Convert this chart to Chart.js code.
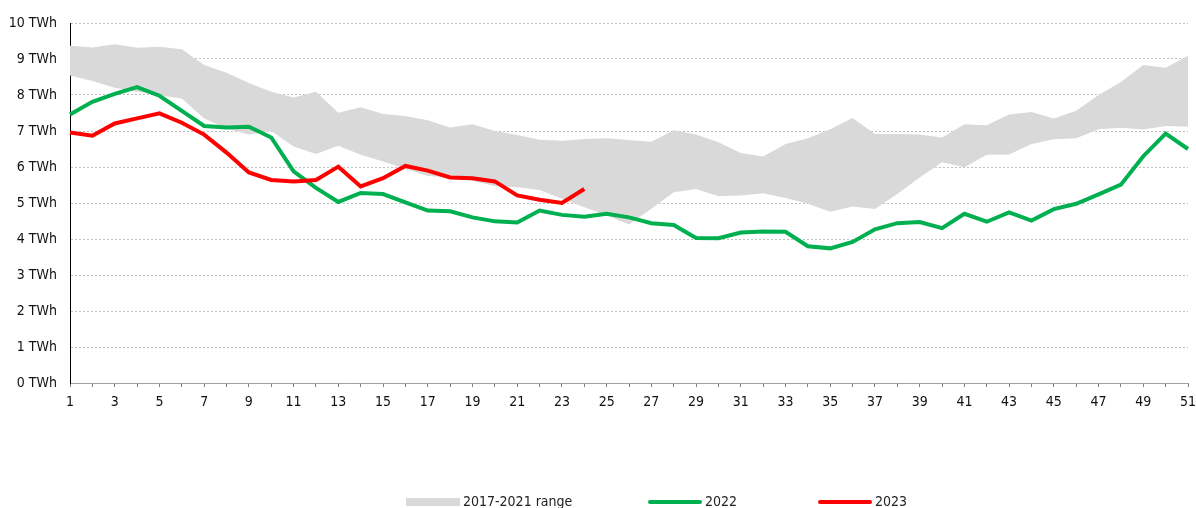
<!DOCTYPE html>
<html>
<head>
<meta charset="utf-8">
<script src="https://cdn.jsdelivr.net/npm/chart.js@4/dist/chart.umd.min.js"></script>
<style>
  body { margin: 0; background: #fff; font-family: "DejaVu Sans Condensed", "DejaVu Sans", sans-serif; }
  #wrap { position: relative; width: 1196px; height: 508px; }
  #legend { position: absolute; top: 493px; left: 0; width: 1196px; height: 16px; font-size: 14px; color: #222; }
  .item { position: absolute; top: 0; line-height: 16px; white-space: nowrap; }
  .swatch { display: inline-block; width: 54px; vertical-align: middle; margin-right: 3px; }
</style>
</head>
<body>
<div id="wrap">
  <canvas id="myChart" width="1196" height="508"></canvas>
  <div id="legend"></div>
</div>
<script>
// weeks 1..51
const weeks = []
for (let w = 1; w <= 51; w++) weeks.push(String(w))

// 2017-2021 range (min / max), TWh
const rangeMax = [9.37, 9.32, 9.41, 9.31, 9.34, 9.27, 8.83, 8.62, 8.33, 8.09,
  7.93, 8.09, 7.51, 7.66, 7.47, 7.42, 7.3, 7.1, 7.19, 7.0,
  6.89, 6.76, 6.73, 6.78, 6.8, 6.75, 6.7, 7.02, 6.9, 6.69,
  6.39, 6.29, 6.64, 6.8, 7.05, 7.36, 6.92, 6.92, 6.9, 6.82,
  7.19, 7.16, 7.46, 7.53, 7.35, 7.56, 8.0, 8.36, 8.83, 8.76, 9.09]
const rangeMin = [8.54, 8.39, 8.2, 8.09, 7.99, 7.9, 7.35, 7.07, 6.9, 7.0,
  6.57, 6.36, 6.59, 6.34, 6.15, 5.95, 5.75, 5.71, 5.62, 5.47,
  5.44, 5.36, 5.12, 4.88, 4.65, 4.4, 4.84, 5.3, 5.39, 5.19,
  5.21, 5.27, 5.14, 4.98, 4.76, 4.9, 4.83, 5.25, 5.71, 6.13,
  5.99, 6.34, 6.35, 6.64, 6.77, 6.8, 7.05, 7.09, 7.04, 7.14, 7.12]

const data2022 = [7.46, 7.81, 8.03, 8.22, 7.98, 7.56, 7.14, 7.1, 7.12, 6.82,
  5.88, 5.42, 5.03, 5.28, 5.25, 5.02, 4.79, 4.77, 4.6, 4.49,
  4.46, 4.79, 4.67, 4.62, 4.7, 4.6, 4.44, 4.39, 4.03, 4.02,
  4.18, 4.21, 4.2, 3.8, 3.74, 3.92, 4.27, 4.44, 4.47, 4.3,
  4.7, 4.48, 4.74, 4.51, 4.83, 4.98, 5.24, 5.51, 6.3, 6.93, 6.5]

const data2023 = [6.96, 6.87, 7.21, 7.35, 7.49, 7.23, 6.9, 6.4, 5.85, 5.64,
  5.6, 5.64, 6.01, 5.46, 5.69, 6.03, 5.9, 5.71, 5.69, 5.6,
  5.21, 5.09, 5.0, 5.39]

const yTicks = [0, 1, 2, 3, 4, 5, 6, 7, 8, 9, 10]

const FONT = "'DejaVu Sans Condensed', 'DejaVu Sans', sans-serif"
const GREY = "#d9d9d9"
const GREEN = "#00b050"
const RED = "#ff0000"

const ctx = document.getElementById("myChart").getContext("2d")
const chart = new Chart(ctx, {
  type: "line",
  data: {
    labels: weeks,
    datasets: [{
      label: "2017-2021 range",
      data: rangeMax,
      fill: 1,
      backgroundColor: GREY,
      borderWidth: 0,
      pointRadius: 0,
      tension: 0,
      order: 3
    }, {
      label: "min",
      data: rangeMin,
      fill: false,
      borderWidth: 0,
      borderColor: "rgba(0,0,0,0)",
      pointRadius: 0,
      order: 4
    }, {
      label: "2022",
      data: data2022,
      borderColor: GREEN,
      borderWidth: 4,
      pointRadius: 0,
      fill: false,
      order: 2
    }, {
      label: "2023",
      data: data2023,
      borderColor: RED,
      borderWidth: 4,
      pointRadius: 0,
      fill: false,
      order: 1
    }]
  },
  options: {
    responsive: false,
    animation: false,
    layout: { padding: { left: 0, right: 0, top: 23, bottom: 95 } },
    plugins: {
      legend: { display: false },
      tooltip: { enabled: false }
    },
    scales: {
      x: {
        offset: false,
        grid: { display: true, drawOnChartArea: false, drawTicks: true, tickLength: 4, color: "#808080" },
        border: { display: true, color: "#a0a0a0", width: 1 },
        ticks: {
          autoSkip: false,
          maxRotation: 0,
          padding: 7,
          color: "#111",
          font: { family: FONT, size: 14 },
          callback: function(val, i) { return i % 2 === 0 ? this.getLabelForValue(val) : "" }
        },
        afterFit: function(scale) {
          scale.height = 30
          scale.paddingRight = 8
        }
      },
      y: {
        min: 0,
        max: 10,
        afterBuildTicks: function(scale) { scale.ticks = yTicks.map(v => ({ value: v })) },
        grid: { color: "#bfbfbf", drawTicks: false, lineWidth: 1 },
        border: { display: true, color: "#000", width: 1, dash: [2, 2] },
        ticks: {
          padding: 13,
          color: "#111",
          font: { family: FONT, size: 14 },
          callback: v => v + " TWh"
        },
        afterFit: function(scale) { scale.width = 70 }
      }
    }
  }
})

// legend below the chart
const legendItems = [
  { text: "2017-2021 range", left: 406, swatch: "height:8px;background:" + GREY },
  { text: "2022", left: 648, swatch: "height:4px;border-radius:2px;background:" + GREEN },
  { text: "2023", left: 818, swatch: "height:4px;border-radius:2px;background:" + RED }
]
const legend = document.getElementById("legend")
legendItems.forEach(function(it) {
  const el = document.createElement("div")
  el.className = "item"
  el.style.left = it.left + "px"
  el.innerHTML = "<span class='swatch' style='" + it.swatch + "'></span>" + it.text
  legend.appendChild(el)
})
</script>
</body>
</html>
